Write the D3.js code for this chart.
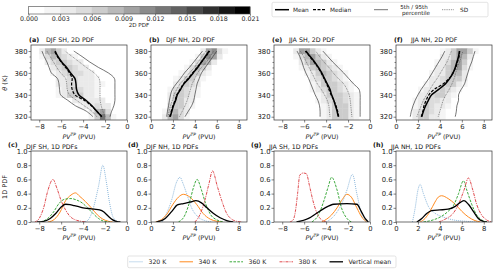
<!DOCTYPE html>
<html>
<head>
<meta charset="utf-8">
<script src="https://cdn.jsdelivr.net/npm/d3@7"></script>
<style>
  body { margin: 0; background: #fff; }
  svg { display: block; font-family: "DejaVu Sans", sans-serif; }
</style>
</head>
<body>
<svg id="chart" width="500" height="274"></svg>
<script>
// ---- data ----
var thetaLevels = [320, 325, 330, 335, 340, 345, 350, 355, 360, 365, 370, 375, 380];
var pvBinCentres = [0.25, 0.75, 1.25, 1.75, 2.25, 2.75, 3.25, 3.75, 4.25, 4.75, 5.25, 5.75, 6.25, 6.75, 7.25, 7.75, 8.25, 8.75];
var cbarTicks = [0, 0.003, 0.006, 0.009, 0.012, 0.015, 0.018, 0.021];
var xTicksSH = [-8, -6, -4, -2, 0];
var xTicksNH = [0, 2, 4, 6, 8];
var thetaTicks = [320, 340, 360, 380];
var pdfTicks = [0, 0.2, 0.4, 0.6, 0.8, 1.0];

// (a) DJF SH profiles (PVU at each theta level)
var a_mean   = [-2.3, -2.75, -3.2, -3.75, -4.4, -4.6, -4.65, -4.75, -5.15, -5.5, -5.95, -6.3, -6.55];
var a_median = [-2.3, -2.75, -3.25, -3.9, -4.75, -5.0, -5.05, -5.0, -5.25, -5.6, -6.0, -6.35, -6.6];
var a_p5     = [-3.1, -3.7, -4.7, -5.4, -6.05, -6.15, -6.2, -6.35, -6.9, -7.1, -7.3, -7.55, -7.75];
var a_p95    = [-1.55, -1.4, -1.2, -1.1, -1.1, -1.1, -1.1, -1.15, -1.7, -2.6, -3.4, -4.1, -4.85];
var a_sdLo   = [-2.75, -3.2, -3.9, -4.6, -5.25, -5.45, -5.5, -5.6, -6.05, -6.4, -6.7, -7.0, -7.3];
var a_sdHi   = [-2.0, -2.2, -2.35, -2.45, -2.46, -2.46, -2.46, -2.55, -3.0, -3.7, -4.35, -5.0, -5.66];
// (b) DJF NH
var b_mean   = [1.75, 1.9, 2.05, 2.25, 2.4, 2.7, 3.0, 3.45, 3.85, 4.25, 4.6, 4.95, 5.3];
var b_median = [1.7, 1.85, 2.0, 2.2, 2.35, 2.65, 2.95, 3.4, 3.8, 4.2, 4.6, 5.0, 5.35];
var b_p5     = [1.43, 1.5, 1.6, 1.68, 1.78, 1.95, 2.3, 2.7, 3.05, 3.5, 3.9, 4.3, 4.7];
var b_p95    = [3.1, 3.4, 3.7, 3.9, 4.0, 4.1, 4.2, 4.4, 4.6, 4.95, 5.3, 5.65, 6.0];
var b_sdLo   = [1.55, 1.65, 1.78, 1.95, 2.1, 2.35, 2.65, 3.1, 3.5, 3.95, 4.3, 4.65, 5.0];
var b_sdHi   = [2.6, 2.85, 3.1, 3.3, 3.45, 3.6, 3.75, 4.0, 4.25, 4.6, 5.05, 5.4, 5.7];
// (e) JJA SH
var e_mean   = [-2.9, -3.0, -3.15, -3.3, -3.5, -3.65, -3.9, -4.15, -4.4, -4.7, -5.05, -5.45, -5.85];
var e_median = [-2.85, -2.95, -3.1, -3.3, -3.55, -3.75, -3.95, -4.2, -4.45, -4.75, -5.1, -5.5, -5.9];
var e_p5     = [-4.55, -4.55, -4.6, -4.75, -5.0, -5.2, -5.4, -5.6, -5.85, -6.05, -6.2, -6.4, -6.65];
var e_p95    = [-0.9, -0.9, -0.9, -0.9, -0.9, -1.0, -1.5, -1.95, -2.4, -2.9, -3.4, -3.85, -4.3];
var e_sdLo   = [-3.65, -3.7, -3.75, -3.9, -4.15, -4.45, -4.8, -5.05, -5.3, -5.55, -5.8, -6.05, -6.35];
var e_sdHi   = [-1.65, -1.7, -1.75, -1.8, -1.9, -2.1, -2.4, -2.9, -3.35, -3.75, -4.2, -4.6, -4.95];
// (f) JJA NH
var f_mean   = [2.35, 2.5, 2.7, 2.95, 3.25, 3.9, 4.5, 4.9, 5.2, 5.4, 5.55, 5.7, 5.78];
var f_median = [2.3, 2.45, 2.55, 2.75, 3.0, 3.5, 4.3, 4.85, 5.2, 5.45, 5.6, 5.75, 5.8];
var f_p5     = [1.3, 1.4, 1.55, 1.75, 2.0, 2.3, 2.65, 3.0, 3.3, 3.6, 3.9, 4.2, 4.45];
var f_p95    = [5.4, 5.5, 5.55, 5.7, 5.7, 5.95, 6.25, 6.4, 6.55, 6.7, 6.9, 7.05, 7.2];
var f_sdLo   = [1.9, 2.1, 2.3, 2.5, 2.8, 3.1, 3.4, 3.75, 4.05, 4.35, 4.65, 4.85, 5.05];
var f_sdHi   = [3.85, 4.0, 4.15, 4.3, 4.55, 4.85, 5.1, 5.3, 5.45, 5.6, 5.8, 5.95, 6.1];

// 2D PDF (x 1e-3), rows = thetaLevels, columns = |PV| bin centres
var a_pdf2d = [
  [0,0,2,8,13,6,2,1,0,0,0,0,0,0,0,0,0,0],
  [0,0,1,5,9,8,3,1,0,0,0,0,0,0,0,0,0,0],
  [0,0,1,3,4,5,4,3,2,1,0,0,0,0,0,0,0,0],
  [0,0,1,1,3,3,4,4,4,3,1,1,0,0,0,0,0,0],
  [0,0,1,1,1,2,3,4,6,6,6,4,2,1,0,0,0,0],
  [0,0,1,1,1,2,3,4,5,6,5,4,2,1,0,0,0,0],
  [0,0,1,1,2,2,3,3,4,5,5,4,3,1,0,0,0,0],
  [0,0,0,1,1,2,3,3,4,5,5,4,3,1,1,0,0,0],
  [0,0,0,0,1,1,3,4,5,5,6,5,4,2,1,0,0,0],
  [0,0,0,0,0,1,1,3,4,5,6,6,5,3,1,1,0,0],
  [0,0,0,0,0,0,1,1,3,4,5,6,6,5,3,1,0,0],
  [0,0,0,0,0,0,0,0,1,2,3,5,7,8,5,2,1,0],
  [0,0,0,0,0,0,0,0,0,1,1,3,6,10,8,3,1,0]
];
var b_pdf2d = [
  [0,0,3,8,9,5,2,1,0,0,0,0,0,0,0,0,0,0],
  [0,0,2,7,8,5,3,1,0,0,0,0,0,0,0,0,0,0],
  [0,0,1,5,7,6,4,2,1,0,0,0,0,0,0,0,0,0],
  [0,0,1,4,7,6,4,3,1,0,0,0,0,0,0,0,0,0],
  [0,0,0,3,6,6,5,3,2,1,0,0,0,0,0,0,0,0],
  [0,0,0,2,5,6,5,4,2,1,0,0,0,0,0,0,0,0],
  [0,0,0,1,3,5,6,5,3,1,0,0,0,0,0,0,0,0],
  [0,0,0,0,2,4,6,6,4,2,1,0,0,0,0,0,0,0],
  [0,0,0,0,0,2,4,7,7,4,2,1,0,0,0,0,0,0],
  [0,0,0,0,0,0,2,5,8,7,3,1,0,0,0,0,0,0],
  [0,0,0,0,0,0,0,2,5,9,8,4,1,0,0,0,0,0],
  [0,0,0,0,0,0,0,0,2,6,11,9,4,1,0,0,0,0],
  [0,0,0,0,0,0,0,0,1,4,10,11,5,2,1,0,0,0]
];
var e_pdf2d = [
  [0,1,2,4,6,7,6,4,2,1,0,0,0,0,0,0,0,0],
  [0,1,2,4,6,7,6,4,2,1,0,0,0,0,0,0,0,0],
  [0,1,2,4,6,7,6,4,2,1,0,0,0,0,0,0,0,0],
  [0,1,2,3,5,6,6,5,3,2,1,0,0,0,0,0,0,0],
  [0,1,2,3,5,6,7,6,4,2,1,0,0,0,0,0,0,0],
  [0,0,1,2,4,5,6,6,5,3,2,1,0,0,0,0,0,0],
  [0,0,1,2,3,5,6,7,6,4,2,1,0,0,0,0,0,0],
  [0,0,0,1,2,4,5,7,7,5,3,1,0,0,0,0,0,0],
  [0,0,0,1,2,3,5,7,8,7,4,2,1,0,0,0,0,0],
  [0,0,0,0,1,2,3,5,7,8,6,4,2,0,0,0,0,0],
  [0,0,0,0,0,1,2,4,6,8,9,6,3,1,0,0,0,0],
  [0,0,0,0,0,0,1,2,4,6,9,8,5,2,0,0,0,0],
  [0,0,0,0,0,0,0,1,2,4,7,10,9,4,1,0,0,0]
];
var f_pdf2d = [
  [0,0,1,3,6,6,4,3,2,1,1,0,0,0,0,0,0,0],
  [0,0,1,3,5,6,5,3,2,1,1,0,0,0,0,0,0,0],
  [0,0,1,2,4,6,5,4,3,2,1,0,0,0,0,0,0,0],
  [0,0,0,2,4,5,5,5,4,3,1,0,0,0,0,0,0,0],
  [0,0,0,1,3,4,5,6,6,4,2,1,0,0,0,0,0,0],
  [0,0,0,1,2,3,4,5,6,5,4,2,1,0,0,0,0,0],
  [0,0,0,0,1,2,3,4,5,6,6,4,2,1,0,0,0,0],
  [0,0,0,0,0,1,3,4,5,6,7,6,3,1,0,0,0,0],
  [0,0,0,0,0,1,2,3,4,6,8,8,4,1,0,0,0,0],
  [0,0,0,0,0,0,1,3,4,6,8,9,5,2,0,0,0,0],
  [0,0,0,0,0,0,1,2,3,5,8,10,6,2,1,0,0,0],
  [0,0,0,0,0,0,0,1,3,4,7,10,8,4,1,0,0,0],
  [0,0,0,0,0,0,0,1,2,3,6,9,10,6,2,1,0,0]
];

// 1D PDFs: [PV, pdf]
var c_320 = [[-4.0,0],[-3.6,0.02],[-3.1,0.18],[-2.6,0.5],[-2.2,0.8],[-1.9,0.58],[-1.6,0.28],[-1.3,0.08],[-1.0,0.02],[-0.7,0]];
var c_340 = [[-7.2,0],[-6.6,0.04],[-6.1,0.14],[-5.6,0.3],[-5.1,0.38],[-4.7,0.41],[-4.3,0.36],[-3.8,0.29],[-3.2,0.19],[-2.7,0.1],[-2.2,0.04],[-1.7,0.01],[-1.3,0]];
var c_360 = [[-7.9,0],[-7.3,0.04],[-6.7,0.14],[-6.2,0.26],[-5.7,0.32],[-5.1,0.33],[-4.6,0.31],[-4.1,0.27],[-3.6,0.2],[-3.1,0.12],[-2.6,0.05],[-2.1,0.01],[-1.6,0]];
var c_380 = [[-8.4,0],[-8.0,0.05],[-7.6,0.2],[-7.2,0.45],[-6.75,0.6],[-6.4,0.48],[-6.0,0.3],[-5.6,0.17],[-5.2,0.08],[-4.7,0.03],[-4.2,0.01],[-3.7,0]];
var c_vmean = [[-8.2,0],[-7.6,0.01],[-7.0,0.05],[-6.5,0.12],[-6.0,0.21],[-5.6,0.25],[-5.2,0.245],[-4.8,0.23],[-4.4,0.215],[-4.0,0.2],[-3.5,0.19],[-3.0,0.18],[-2.5,0.17],[-2.1,0.14],[-1.7,0.08],[-1.3,0.03],[-0.9,0.005],[-0.6,0]];

var d_320 = [[1.0,0],[1.5,0.15],[1.9,0.32],[2.3,0.55],[2.65,0.63],[2.9,0.55],[3.25,0.4],[3.7,0.2],[4.3,0.07],[4.9,0.02],[5.5,0]];
var d_340 = [[0.4,0],[0.8,0.02],[1.4,0.1],[2.0,0.25],[2.5,0.35],[2.95,0.39],[3.55,0.35],[4.15,0.25],[4.75,0.12],[5.4,0.04],[6.0,0.01],[6.5,0]];
var d_360 = [[2.5,0],[3.1,0.1],[3.55,0.3],[3.9,0.5],[4.2,0.6],[4.6,0.45],[5.0,0.25],[5.45,0.1],[6.0,0.03],[6.6,0]];
var d_380 = [[4.0,0],[4.45,0.1],[4.9,0.3],[5.3,0.55],[5.6,0.72],[6.05,0.5],[6.45,0.3],[6.9,0.12],[7.35,0.04],[7.8,0.01],[8.3,0]];
var d_vmean = [[0.5,0],[1.3,0.05],[1.9,0.15],[2.4,0.24],[2.95,0.26],[3.55,0.28],[4.1,0.3],[4.6,0.27],[5.1,0.2],[5.7,0.12],[6.3,0.06],[6.9,0.02],[7.5,0]];

var g_320 = [[-4.0,0],[-3.2,0.1],[-2.6,0.25],[-2.1,0.45],[-1.6,0.67],[-1.2,0.4],[-0.75,0.1],[-0.3,0]];
var g_340 = [[-4.4,0],[-3.5,0.1],[-3.0,0.2],[-2.6,0.3],[-2.1,0.39],[-1.7,0.35],[-1.2,0.2],[-0.75,0.07],[-0.3,0]];
var g_360 = [[-5.3,0],[-4.7,0.1],[-4.2,0.3],[-3.8,0.5],[-3.5,0.63],[-3.0,0.45],[-2.6,0.2],[-2.1,0.05],[-1.7,0]];
var g_380 = [[-7.3,0],[-7.0,0.03],[-6.8,0.15],[-6.6,0.4],[-6.4,0.66],[-6.1,0.69],[-5.8,0.68],[-5.5,0.5],[-5.2,0.3],[-4.9,0.15],[-4.6,0.06],[-4.3,0.02],[-4.0,0]];
var g_vmean = [[-6.7,0],[-5.6,0.05],[-4.9,0.12],[-4.1,0.2],[-3.3,0.25],[-2.1,0.26],[-1.2,0.25],[-0.8,0.15],[-0.45,0.05],[-0.15,0]];

var h_320 = [[1.5,0],[1.75,0.2],[2.0,0.45],[2.2,0.53],[2.5,0.4],[2.95,0.22],[3.5,0.13],[4.3,0.07],[5.2,0.03],[6.4,0.01],[7.4,0]];
var h_340 = [[2.2,0],[2.65,0.05],[3.1,0.15],[3.55,0.28],[3.85,0.35],[4.15,0.37],[4.75,0.33],[5.4,0.25],[6.0,0.15],[6.6,0.07],[7.2,0.02],[7.7,0]];
var h_360 = [[2.5,0],[3.4,0.03],[4.15,0.08],[4.75,0.15],[5.3,0.25],[5.7,0.4],[6.15,0.58],[6.45,0.45],[6.9,0.25],[7.35,0.1],[7.8,0.03],[8.3,0]];
var h_380 = [[3.9,0],[4.6,0.05],[5.2,0.12],[5.7,0.25],[6.2,0.45],[6.6,0.62],[7.0,0.45],[7.35,0.25],[7.8,0.1],[8.25,0.03],[8.7,0]];
var h_vmean = [[1.9,0],[2.35,0.05],[2.8,0.12],[3.25,0.16],[4.0,0.17],[4.75,0.18],[5.4,0.22],[5.9,0.28],[6.2,0.3],[6.6,0.25],[7.05,0.15],[7.5,0.05],[7.95,0.01],[8.3,0]];

// ---- layout ----
var colLeft = [31, 151, 274, 396];
var panelW = 96;
var topBox = {y0: 45, y1: 120};
var botBox = {y0: 151, y1: 222};
var fontSz = 6.8;

var topPanels = [
  {tag: "(a)", name: "DJF SH, 2D PDF", sh: true,  col: 0, mean: a_mean, median: a_median, p5: a_p5, p95: a_p95, sdLo: a_sdLo, sdHi: a_sdHi, pdf: a_pdf2d},
  {tag: "(b)", name: "DJF NH, 2D PDF", sh: false, col: 1, mean: b_mean, median: b_median, p5: b_p5, p95: b_p95, sdLo: b_sdLo, sdHi: b_sdHi, pdf: b_pdf2d},
  {tag: "(e)", name: "JJA SH, 2D PDF", sh: true,  col: 2, mean: e_mean, median: e_median, p5: e_p5, p95: e_p95, sdLo: e_sdLo, sdHi: e_sdHi, pdf: e_pdf2d},
  {tag: "(f)", name: "JJA NH, 2D PDF", sh: false, col: 3, mean: f_mean, median: f_median, p5: f_p5, p95: f_p95, sdLo: f_sdLo, sdHi: f_sdHi, pdf: f_pdf2d}
];
var botPanels = [
  {tag: "(c)", name: "DJF SH, 1D PDFs", sh: true,  col: 0, series: [c_320, c_340, c_360, c_380, c_vmean]},
  {tag: "(d)", name: "DJF NH, 1D PDFs", sh: false, col: 1, series: [d_320, d_340, d_360, d_380, d_vmean]},
  {tag: "(g)", name: "JJA SH, 1D PDFs", sh: true,  col: 2, series: [g_320, g_340, g_360, g_380, g_vmean]},
  {tag: "(h)", name: "JJA NH, 1D PDFs", sh: false, col: 3, series: [h_320, h_340, h_360, h_380, h_vmean]}
];
var seriesStyle = [
  {key: "320 K", color: "#8cb8dc", dash: "1,1",       w: 1.0},
  {key: "340 K", color: "#ff8b1f", dash: null,        w: 1.0},
  {key: "360 K", color: "#3caa3c", dash: "2.6,1.3",   w: 1.0},
  {key: "380 K", color: "#e04a4e", dash: "3,1,1,1",   w: 1.0},
  {key: "Vertical mean", color: "#000", dash: null,   w: 1.3}
];

var svg = d3.select("#chart");
svg.append("rect").attr("width", 500).attr("height", 274).attr("fill", "#fff");
var defs = svg.append("defs");

function levelColor(v) {
  var idx = Math.min(13, Math.floor(v / 1.5 + 1e-9));
  return idx <= 0 ? null : d3.interpolateGreys(idx / 13);
}

function xScaleFor(p) {
  var left = colLeft[p.col];
  return d3.scaleLinear().domain(p.sh ? [-8.75, 0] : [0, 8.75]).range([left, left + panelW]);
}

function styleAxis(g) {
  g.select(".domain").remove();
  g.selectAll(".tick line").attr("stroke", "#333").attr("stroke-width", 0.6);
  g.selectAll(".tick text").attr("fill", "#222").style("font-size", fontSz + "px")
    .style("font-family", "DejaVu Sans");
}

function xLabel(x, y) {
  var t = svg.append("text").attr("x", x).attr("y", y).attr("text-anchor", "middle")
    .style("font-size", "6.3px").attr("fill", "#222");
  t.append("tspan").style("font-style", "italic").text("PV");
  t.append("tspan").style("font-style", "italic").style("font-size", "4.4px").attr("dy", -2.6).text("TP");
  t.append("tspan").attr("dy", 2.6).text(" (PVU)");
}

function drawTitle(p, tagX, tagY, nameX, nameY) {
  svg.append("text").attr("x", tagX).attr("y", tagY).style("font-size", "6.4px")
    .style("font-weight", "bold").attr("fill", "#111").text(p.tag);
  svg.append("text").attr("x", nameX).attr("y", nameY).style("font-size", "6.3px")
    .attr("fill", "#111").text(p.name);
}

// ---- top row: 2D PDFs ----
topPanels.forEach(function(p, i) {
  var x = xScaleFor(p);
  var y = d3.scaleLinear().domain([317, 385.5]).range([topBox.y1, topBox.y0]);
  var left = colLeft[p.col];

  defs.append("clipPath").attr("id", "clipT" + i).append("rect")
    .attr("x", left).attr("y", topBox.y0).attr("width", panelW).attr("height", topBox.y1 - topBox.y0);
  var g = svg.append("g").attr("clip-path", "url(#clipT" + i + ")");

  // shaded cells
  var cells = [];
  p.pdf.forEach(function(row, r) {
    row.forEach(function(v, k) {
      var c = levelColor(v);
      if (!c) return;
      var lo = pvBinCentres[k] - 0.25, hi = pvBinCentres[k] + 0.25;
      var xa = p.sh ? x(-hi) : x(lo), xb = p.sh ? x(-lo) : x(hi);
      cells.push({x0: xa, x1: xb, y0: y(thetaLevels[r] + 2.5), y1: y(thetaLevels[r] - 2.5), c: c});
    });
  });
  g.selectAll("rect.cell").data(cells).enter().append("rect").attr("class", "cell")
    .attr("x", function(d) { return d.x0; }).attr("y", function(d) { return d.y0; })
    .attr("width", function(d) { return d.x1 - d.x0 + 0.3; })
    .attr("height", function(d) { return d.y1 - d.y0 + 0.3; })
    .attr("fill", function(d) { return d.c; });

  var line = d3.line().x(function(d) { return x(d[0]); }).y(function(d) { return y(d[1]); })
    .curve(d3.curveCatmullRom.alpha(0.5));
  function prof(arr) { return thetaLevels.map(function(t, j) { return [arr[j], t]; }); }

  [p.p5, p.p95].forEach(function(arr) {
    g.append("path").attr("d", line(prof(arr))).attr("fill", "none")
      .attr("stroke", "#3a3a3a").attr("stroke-width", 0.7);
  });
  [p.sdLo, p.sdHi].forEach(function(arr) {
    g.append("path").attr("d", line(prof(arr))).attr("fill", "none")
      .attr("stroke", "#555").attr("stroke-width", 0.7).attr("stroke-dasharray", "0.9,0.9");
  });
  g.append("path").attr("d", line(prof(p.median))).attr("fill", "none")
    .attr("stroke", "#000").attr("stroke-width", 1.2).attr("stroke-dasharray", "3,1.5");
  g.append("path").attr("d", line(prof(p.mean))).attr("fill", "none")
    .attr("stroke", "#000").attr("stroke-width", 1.5);

  // axes
  svg.append("g").attr("transform", "translate(0," + topBox.y1 + ")")
    .call(d3.axisBottom(x).tickValues(p.sh ? xTicksSH : xTicksNH).tickSize(2.5).tickPadding(1.5).tickFormat(d3.format("d")))
    .call(styleAxis);
  svg.append("g").attr("transform", "translate(" + left + ",0)")
    .call(d3.axisLeft(y).tickValues(thetaTicks).tickSize(2.5).tickPadding(1).tickFormat(d3.format("d")))
    .call(styleAxis);
  svg.append("g").attr("transform", "translate(" + left + ",0)")
    .call(d3.axisLeft(y).tickValues(d3.range(320, 385, 5).filter(function(t) { return t % 20 !== 0; })).tickSize(1.5).tickFormat(""))
    .call(styleAxis);
  svg.append("rect").attr("x", left).attr("y", topBox.y0).attr("width", panelW)
    .attr("height", topBox.y1 - topBox.y0).attr("fill", "none").attr("stroke", "#333").attr("stroke-width", 0.7);

  xLabel(left + panelW / 2, 138.5);
  drawTitle(p, left - 2, 42.3, left + 15, 42.3);
});

// ---- bottom row: 1D PDFs ----
botPanels.forEach(function(p, i) {
  var x = xScaleFor(p);
  var y = d3.scaleLinear().domain([0, 1]).range([botBox.y1, botBox.y0]);
  var left = colLeft[p.col];

  defs.append("clipPath").attr("id", "clipB" + i).append("rect")
    .attr("x", left).attr("y", botBox.y0 - 2).attr("width", panelW).attr("height", botBox.y1 - botBox.y0 + 2);
  var g = svg.append("g").attr("clip-path", "url(#clipB" + i + ")");

  var line = d3.line().x(function(d) { return x(d[0]); }).y(function(d) { return y(d[1]); })
    .curve(d3.curveMonotoneX);
  p.series.forEach(function(s, j) {
    var st = seriesStyle[j];
    g.append("path").attr("d", line(s)).attr("fill", "none")
      .attr("stroke", st.color).attr("stroke-width", st.w)
      .attr("stroke-dasharray", st.dash);
  });

  svg.append("g").attr("transform", "translate(0," + botBox.y1 + ")")
    .call(d3.axisBottom(x).tickValues(p.sh ? xTicksSH : xTicksNH).tickSize(2.5).tickPadding(1.5).tickFormat(d3.format("d")))
    .call(styleAxis);
  svg.append("g").attr("transform", "translate(" + left + ",0)")
    .call(d3.axisLeft(y).tickValues(pdfTicks).tickSize(2.5).tickPadding(1).tickFormat(d3.format(".1f")))
    .call(styleAxis);
  svg.append("rect").attr("x", left).attr("y", botBox.y0).attr("width", panelW)
    .attr("height", botBox.y1 - botBox.y0).attr("fill", "none").attr("stroke", "#333").attr("stroke-width", 0.7);

  xLabel(left + panelW / 2, 239.5);
  drawTitle(p, left - 23, 147, left - 5, 148.5);
});

// y labels
svg.append("text").attr("transform", "translate(7,83) rotate(-90)").attr("text-anchor", "middle")
  .style("font-size", "6.5px").attr("fill", "#222")
  .call(function(t) {
    t.append("tspan").style("font-style", "italic").text("θ");
    t.append("tspan").text(" (K)");
  });
svg.append("text").attr("transform", "translate(7,187) rotate(-90)").attr("text-anchor", "middle")
  .style("font-size", "6.5px").attr("fill", "#222").text("1D PDF");

// ---- colour bar ----
var cb = d3.scaleLinear().domain([0, 0.021]).range([28.5, 250]);
var cbLevels = d3.range(14);
svg.selectAll("rect.cb").data(cbLevels).enter().append("rect").attr("class", "cb")
  .attr("x", function(d) { return cb(d * 0.0015); }).attr("y", 6.7)
  .attr("width", function() { return cb(0.0015) - cb(0) + 0.3; }).attr("height", 7.3)
  .attr("fill", function(d) { return d3.interpolateGreys(d / 13); });
svg.append("rect").attr("x", 28.5).attr("y", 6.7).attr("width", 250 - 28.5).attr("height", 7.3)
  .attr("fill", "none").attr("stroke", "#444").attr("stroke-width", 0.6);
var cbAxis = svg.append("g").attr("transform", "translate(0,14)")
  .call(d3.axisBottom(cb).tickValues(cbarTicks).tickSize(1.8).tickPadding(1).tickFormat(d3.format(".3f")))
  .call(styleAxis);
cbAxis.selectAll(".tick text").style("font-size", "6.3px");
svg.append("text").attr("x", 139).attr("y", 26.5).attr("text-anchor", "middle")
  .style("font-size", "5.6px").attr("fill", "#222").text("2D PDF");

// ---- top-right legend ----
var lg = svg.append("g");
lg.append("rect").attr("x", 272).attr("y", 2.3).attr("width", 216).attr("height", 14.5).attr("rx", 1.5)
  .attr("fill", "#fff").attr("stroke", "#d0d0d0").attr("stroke-width", 0.6);
var topLegend = [
  {x0: 275, x1: 289, tx: 293, w: 1.5, dash: null, color: "#000", label: "Mean"},
  {x0: 313, x1: 326, tx: 330, w: 1.2, dash: "3,1.5", color: "#000", label: "Median"},
  {x0: 374, x1: 388, tx: null, w: 0.7, dash: null, color: "#3a3a3a", label: null},
  {x0: 442, x1: 454, tx: 460, w: 0.7, dash: "0.9,0.9", color: "#555", label: "SD"}
];
topLegend.forEach(function(d) {
  lg.append("line").attr("x1", d.x0).attr("x2", d.x1).attr("y1", 9.7).attr("y2", 9.7)
    .attr("stroke", d.color).attr("stroke-width", d.w).attr("stroke-dasharray", d.dash);
  if (d.label) lg.append("text").attr("x", d.tx).attr("y", 11.8).style("font-size", "5.8px")
    .attr("fill", "#222").text(d.label);
});
lg.append("text").attr("x", 414).attr("y", 8.6).attr("text-anchor", "middle").style("font-size", "5.6px")
  .attr("fill", "#222").text("5th / 95th");
lg.append("text").attr("x", 416).attr("y", 15).attr("text-anchor", "middle").style("font-size", "5.6px")
  .attr("fill", "#222").text("percentile");

// ---- bottom legend ----
var bl = svg.append("g");
bl.append("rect").attr("x", 127.7).attr("y", 256).attr("width", 268.3).attr("height", 11.7).attr("rx", 1.5)
  .attr("fill", "#fff").attr("stroke", "#d0d0d0").attr("stroke-width", 0.6);
seriesStyle.forEach(function(st, j) {
  var x0 = 129.5 + j * 50;
  bl.append("line").attr("x1", x0).attr("x2", x0 + 13.5).attr("y1", 261.8).attr("y2", 261.8)
    .attr("stroke", st.color).attr("stroke-width", st.w).attr("stroke-dasharray", st.dash);
  bl.append("text").attr("x", x0 + 19).attr("y", 264).style("font-size", "6.2px")
    .attr("fill", "#222").text(st.key);
});
</script>
</body>
</html>
